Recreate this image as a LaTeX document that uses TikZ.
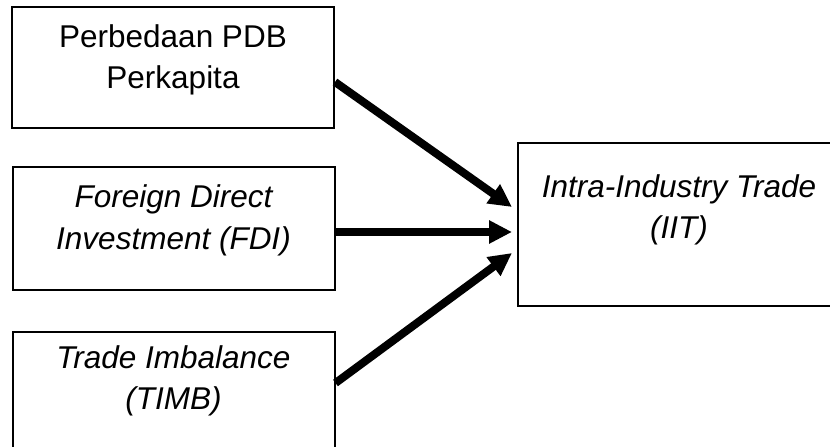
\documentclass[tikz,border=0pt]{standalone}
\usepackage{fontspec}
\setmainfont{Liberation Sans}
\usetikzlibrary{positioning, calc, arrows.meta}
\tikzset{box/.style={draw, line width=2pt, minimum width=322pt, inner sep=0pt}}
\tikzset{boxtext/.style={align=center, inner sep=0pt, font=\fontsize{31.5}{41.5}\selectfont}}
\tikzset{flow/.style={line width=8pt, -{Triangle[length=23pt, width=22pt]}}}

\begin{document}
\begin{tikzpicture}[x=1pt, y=-1pt]
  \useasboundingbox (0,0) rectangle (830,447);
  \clip (0,0) rectangle (830,447);

  \node[box, minimum height=121pt] (gdp) at (173,67.5) {};
  \node[boxtext, below=18pt of gdp.north] (gdptext) {Perbedaan PDB\\Perkapita};

  \node[box, minimum height=123pt] (fdi) at (173.5,228.5) {};
  \node[boxtext, below=18.5pt of fdi.north] (fditext) {\itshape Foreign Direct\\\itshape Investment (FDI)};

  \node[box, minimum height=121pt] (timb) at (173.5,392.5) {};
  \node[boxtext, below=14pt of timb.north] (timbtext) {\itshape Trade Imbalance\\\itshape (TIMB)};

  \node[box, minimum height=163pt] (iit) at (679,224.5) {};
  \node[boxtext, below=32pt of iit.north] (iittext) {\itshape Intra-Industry Trade\\\itshape (IIT)};

  \draw[flow] ([yshift=-14.5pt]gdp.east) -- ([xshift=-5pt, yshift=17.5pt]iit.west);
  \draw[flow] ([yshift=-3.5pt]fdi.east) -- ([xshift=-5pt, yshift=-7.5pt]iit.west);
  \draw[flow] ([yshift=9.5pt]timb.east) -- ([xshift=-5pt, yshift=-28.5pt]iit.west);
\end{tikzpicture}
\end{document}
